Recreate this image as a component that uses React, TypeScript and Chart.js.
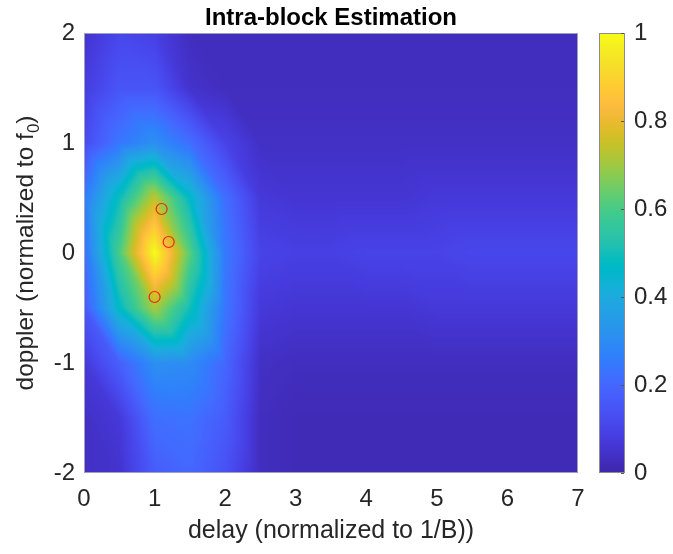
import React, { useEffect, useRef } from "react";
import { Chart, registerables } from "chart.js";

Chart.register(...registerables);

// ---- data ----
const delayGrid = [0, 0.5, 1, 1.5, 2, 2.5, 3, 3.5, 4, 4.5, 5, 5.5, 6, 6.5, 7];
const dopplerGrid = [2, 1.5, 1, 0.5, 0, -0.5, -1, -1.5, -2];

const rowDopP20 = [0.05, 0.11, 0.09, 0.03, 0.03, 0.03, 0.03, 0.03, 0.03, 0.03, 0.03, 0.03, 0.03, 0.03, 0.03];
const rowDopP15 = [0.08, 0.15, 0.15, 0.05, 0.03, 0.03, 0.03, 0.03, 0.03, 0.03, 0.03, 0.03, 0.03, 0.03, 0.03];
const rowDopP10 = [0.12, 0.24, 0.31, 0.22, 0.10, 0.04, 0.04, 0.04, 0.04, 0.04, 0.04, 0.04, 0.04, 0.04, 0.04];
const rowDopP05 = [0.25, 0.49, 0.74, 0.47, 0.22, 0.07, 0.06, 0.06, 0.06, 0.06, 0.07, 0.07, 0.07, 0.07, 0.07];
const rowDop00 = [0.22, 0.60, 1.00, 0.62, 0.25, 0.10, 0.09, 0.09, 0.10, 0.10, 0.10, 0.11, 0.11, 0.11, 0.11];
const rowDopN05 = [0.16, 0.47, 0.71, 0.50, 0.24, 0.07, 0.06, 0.06, 0.06, 0.06, 0.07, 0.07, 0.07, 0.07, 0.07];
const rowDopN10 = [0.07, 0.18, 0.31, 0.30, 0.20, 0.04, 0.03, 0.03, 0.03, 0.03, 0.03, 0.03, 0.03, 0.03, 0.03];
const rowDopN15 = [0.04, 0.07, 0.22, 0.23, 0.17, 0.03, 0.02, 0.02, 0.02, 0.02, 0.02, 0.02, 0.02, 0.02, 0.02];
const rowDopN20 = [0.04, 0.05, 0.17, 0.20, 0.14, 0.03, 0.02, 0.02, 0.02, 0.02, 0.02, 0.02, 0.02, 0.02, 0.02];

const intensityRows = [rowDopP20, rowDopP15, rowDopP10, rowDopP05, rowDop00, rowDopN05, rowDopN10, rowDopN15, rowDopN20];

const estimateDelay = [1.1, 1.2, 1.0];
const estimateDoppler = [0.4, 0.1, -0.4];

const xTickValues = [0, 1, 2, 3, 4, 5, 6, 7];
const yTickValues = [-2, -1, 0, 1, 2];
const colorTickValues = [0, 0.2, 0.4, 0.6, 0.8, 1];

const titleText = "Intra-block Estimation";
const xTitleText = "delay (normalized to 1/B))";
const yTitleMain = "doppler (normalized to f";
const yTitleSub = "0";
const yTitleTail = ")";

// ---- style ----
const FONT = "'Liberation Sans', Arial, Helvetica, sans-serif";
const TEXT_COLOR = "#262626";

const PARULA: number[][] = [
  [0.2422, 0.1504, 0.6603], [0.2504, 0.1650, 0.7076], [0.2578, 0.1818, 0.7511], [0.2647, 0.1978, 0.7952],
  [0.2706, 0.2147, 0.8364], [0.2751, 0.2342, 0.8710], [0.2783, 0.2559, 0.8991], [0.2803, 0.2782, 0.9221],
  [0.2813, 0.3006, 0.9414], [0.2810, 0.3228, 0.9579], [0.2795, 0.3447, 0.9717], [0.2760, 0.3667, 0.9829],
  [0.2699, 0.3892, 0.9906], [0.2602, 0.4123, 0.9952], [0.2440, 0.4358, 0.9988], [0.2206, 0.4603, 0.9973],
  [0.1963, 0.4847, 0.9892], [0.1834, 0.5074, 0.9798], [0.1786, 0.5289, 0.9682], [0.1764, 0.5499, 0.9520],
  [0.1687, 0.5703, 0.9359], [0.1540, 0.5902, 0.9218], [0.1460, 0.6091, 0.9079], [0.1380, 0.6276, 0.8973],
  [0.1248, 0.6459, 0.8883], [0.1113, 0.6635, 0.8763], [0.0952, 0.6798, 0.8598], [0.0689, 0.6948, 0.8394],
  [0.0297, 0.7082, 0.8163], [0.0036, 0.7203, 0.7917], [0.0067, 0.7312, 0.7660], [0.0433, 0.7411, 0.7394],
  [0.0964, 0.7500, 0.7120], [0.1408, 0.7584, 0.6842], [0.1717, 0.7670, 0.6554], [0.1938, 0.7758, 0.6251],
  [0.2161, 0.7843, 0.5923], [0.2470, 0.7918, 0.5567], [0.2906, 0.7973, 0.5188], [0.3406, 0.8008, 0.4789],
  [0.3909, 0.8029, 0.4354], [0.4456, 0.8024, 0.3909], [0.5044, 0.7993, 0.3480], [0.5616, 0.7942, 0.3045],
  [0.6174, 0.7876, 0.2612], [0.6720, 0.7793, 0.2227], [0.7242, 0.7698, 0.1910], [0.7738, 0.7598, 0.1646],
  [0.8203, 0.7498, 0.1535], [0.8634, 0.7406, 0.1596], [0.9035, 0.7330, 0.1774], [0.9393, 0.7288, 0.2100],
  [0.9728, 0.7298, 0.2394], [0.9956, 0.7434, 0.2371], [0.9970, 0.7659, 0.2199], [0.9952, 0.7893, 0.2028],
  [0.9892, 0.8136, 0.1885], [0.9786, 0.8386, 0.1766], [0.9676, 0.8639, 0.1643], [0.9610, 0.8890, 0.1537],
  [0.9597, 0.9135, 0.1423], [0.9628, 0.9373, 0.1265], [0.9691, 0.9606, 0.1064], [0.9769, 0.9839, 0.0805],
];

function parula(v: number): [number, number, number] {
  const c = Math.max(0, Math.min(1, v));
  const p = c * (PARULA.length - 1);
  const i = Math.min(PARULA.length - 2, Math.floor(p));
  const f = p - i;
  const a = PARULA[i];
  const b = PARULA[i + 1];
  return [
    Math.round(255 * (a[0] + (b[0] - a[0]) * f)),
    Math.round(255 * (a[1] + (b[1] - a[1]) * f)),
    Math.round(255 * (a[2] + (b[2] - a[2]) * f)),
  ];
}

function valueAt(x: number, y: number): number {
  let i = 0;
  while (i < delayGrid.length - 2 && x > delayGrid[i + 1]) i++;
  let j = 0;
  while (j < dopplerGrid.length - 2 && y < dopplerGrid[j + 1]) j++;
  const u = (x - delayGrid[i]) / (delayGrid[i + 1] - delayGrid[i]);
  const t = (y - dopplerGrid[j + 1]) / (dopplerGrid[j] - dopplerGrid[j + 1]);
  const LL = intensityRows[j + 1][i];
  const LR = intensityRows[j + 1][i + 1];
  const UL = intensityRows[j][i];
  const UR = intensityRows[j][i + 1];
  if (u + t <= 1) return LL + u * (LR - LL) + t * (UL - LL);
  return UR + (1 - u) * (UL - UR) + (1 - t) * (LR - UR);
}

const surfacePlugin = {
  id: "surface",
  beforeDatasetsDraw(chart: any) {
    const { ctx, chartArea, scales } = chart;
    const xs = scales.x;
    const ys = scales.y;
    const left = Math.round(chartArea.left);
    const top = Math.round(chartArea.top);
    const w = Math.round(chartArea.right) - left;
    const h = Math.round(chartArea.bottom) - top;
    const off = document.createElement("canvas");
    off.width = w;
    off.height = h;
    const octx = off.getContext("2d")!;
    const img = octx.createImageData(w, h);
    for (let py = 0; py < h; py++) {
      const dy = ys.getValueForPixel(top + py + 0.5);
      for (let px = 0; px < w; px++) {
        const dx = xs.getValueForPixel(left + px + 0.5);
        const c = parula(valueAt(dx, dy));
        const k = (py * w + px) * 4;
        img.data[k] = c[0];
        img.data[k + 1] = c[1];
        img.data[k + 2] = c[2];
        img.data[k + 3] = 255;
      }
    }
    octx.putImageData(img, 0, 0);
    ctx.save();
    ctx.drawImage(off, left, top);
    ctx.strokeStyle = "rgba(165,165,185,0.95)";
    ctx.lineWidth = 1;
    ctx.strokeRect(left + 0.5, top + 0.5, w - 1, h - 1);

    // colorbar
    const cb = scales.cb;
    const barX = Math.round(cb.left) + 21;
    const barW = 26;
    for (let py = Math.round(cb.top); py < Math.round(cb.bottom); py++) {
      const c = parula(cb.getValueForPixel(py + 0.5));
      ctx.fillStyle = `rgb(${c[0]},${c[1]},${c[2]})`;
      ctx.fillRect(barX, py, barW, 1);
    }
    ctx.strokeStyle = "#8c8c8c";
    ctx.strokeRect(barX + 0.5, Math.round(cb.top) + 0.5, barW - 1, Math.round(cb.bottom - cb.top) - 1);
    ctx.strokeStyle = "#555555";
    colorTickValues.forEach((v) => {
      const yy = Math.round(cb.getPixelForValue(v)) + 0.5;
      ctx.beginPath();
      ctx.moveTo(barX + barW - 4, yy);
      ctx.lineTo(barX + barW - 1, yy);
      ctx.stroke();
    });

    // title
    const cx = (chartArea.left + chartArea.right) / 2;
    ctx.fillStyle = "#000000";
    ctx.textAlign = "center";
    ctx.textBaseline = "alphabetic";
    ctx.font = `bold 24px ${FONT}`;
    ctx.fillText(titleText, cx, 25);

    // x title
    ctx.fillStyle = TEXT_COLOR;
    ctx.textBaseline = "middle";
    ctx.font = `25px ${FONT}`;
    ctx.fillText(xTitleText, cx, 531);

    // y title with subscript
    ctx.translate(26, (chartArea.top + chartArea.bottom) / 2);
    ctx.rotate(-Math.PI / 2);
    ctx.textAlign = "left";
    const subFont = `17px ${FONT}`;
    const mainFont = `24.5px ${FONT}`;
    ctx.font = mainFont;
    const wMain = ctx.measureText(yTitleMain).width;
    const wTail = ctx.measureText(yTitleTail).width;
    ctx.font = subFont;
    const wSub = ctx.measureText(yTitleSub).width;
    let sx = -(wMain + wSub + wTail) / 2;
    ctx.font = mainFont;
    ctx.fillText(yTitleMain, sx, 0);
    sx += wMain;
    ctx.font = subFont;
    ctx.fillText(yTitleSub, sx, 8);
    sx += wSub;
    ctx.font = mainFont;
    ctx.fillText(yTitleTail, sx, 0);
    ctx.restore();
  },
};

export default function App() {
  const canvasRef = useRef<HTMLCanvasElement | null>(null);

  useEffect(() => {
    const canvas = canvasRef.current;
    if (!canvas) return;
    const points = estimateDelay.map((d, i) => ({ x: d, y: estimateDoppler[i] }));
    const tickFont = { size: 24, family: FONT };
    const chart = new Chart(canvas, {
      type: "scatter",
      data: {
        datasets: [
          {
            label: "estimates",
            data: points,
            pointStyle: "circle",
            pointRadius: 5.5,
            pointBorderWidth: 1.2,
            pointBorderColor: "#e8261e",
            pointBackgroundColor: "rgba(0,0,0,0)",
            showLine: false,
          },
        ],
      },
      options: {
        animation: false,
        responsive: false,
        devicePixelRatio: 1,
        layout: { padding: { top: 33, left: 0, right: 0, bottom: 0 } },
        plugins: {
          legend: { display: false },
          tooltip: { enabled: false },
          title: { display: false },
          subtitle: { display: false },
        },
        scales: {
          x: {
            type: "linear",
            position: "bottom",
            min: 0,
            max: 7,
            afterBuildTicks: (s: any) => {
              s.ticks = xTickValues.map((v) => ({ value: v }));
            },
            afterFit: (s: any) => {
              s.height = 81;
              s.paddingLeft = 0;
              s.paddingRight = 0;
            },
            ticks: { color: TEXT_COLOR, font: tickFont, padding: 12, maxRotation: 0, autoSkip: false },
            grid: { display: false, drawTicks: false },
            border: { display: false },
          },
          y: {
            type: "linear",
            position: "left",
            min: -2,
            max: 2,
            afterBuildTicks: (s: any) => {
              s.ticks = yTickValues.map((v) => ({ value: v }));
            },
            afterFit: (s: any) => {
              s.width = 84;
              s.paddingTop = 0;
              s.paddingBottom = 0;
            },
            ticks: { color: TEXT_COLOR, font: tickFont, padding: 9, autoSkip: false },
            grid: { display: false, drawTicks: false },
            border: { display: false },
          },
          cb: {
            type: "linear",
            position: "right",
            min: 0,
            max: 1,
            afterBuildTicks: (s: any) => {
              s.ticks = colorTickValues.map((v) => ({ value: v }));
            },
            afterFit: (s: any) => {
              s.width = 95;
              s.paddingTop = 0;
              s.paddingBottom = 0;
            },
            ticks: {
              color: TEXT_COLOR,
              font: tickFont,
              padding: 56,
              autoSkip: false,
              callback: (v: any) => String(Math.round(Number(v) * 10) / 10),
            },
            grid: { display: false, drawTicks: false },
            border: { display: false },
          },
        },
      },
      plugins: [surfacePlugin],
    } as any);
    return () => chart.destroy();
  }, []);

  return (
    <div style={{ position: "fixed", left: 0, top: 0, width: 673, height: 554, background: "#ffffff" }}>
      <canvas ref={canvasRef} width={673} height={554} style={{ width: 673, height: 554, display: "block" }} />
    </div>
  );
}
